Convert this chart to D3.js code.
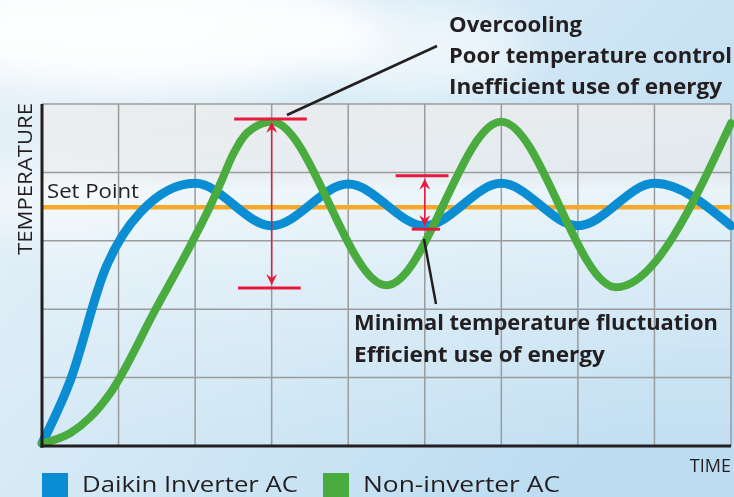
<!DOCTYPE html>
<html>
<head>
<meta charset="utf-8">
<script src="https://cdn.jsdelivr.net/npm/d3@7"></script>
<style>
  body { margin: 0; overflow: hidden; }
  svg { display: block; font-family: "Open Sans", sans-serif; }
</style>
</head>
<body>
<div id="chart"></div>
<script>
// temperature curves, x in grid columns (time), y in grid rows (temperature)
const inverterX = [0, 0.37, 0.82, 1.28, 2.0, 3.0, 4.0, 5.0, 6.0, 7.0, 8.0, 9.0];
const inverterY = [0.04, 0.96, 2.57, 3.41, 3.84, 3.22, 3.83, 3.22, 3.84, 3.22, 3.84, 3.22];
const nonInverterX = [0, 0.37, 0.63, 0.89, 1.48, 1.97, 2.19, 2.35, 2.49, 2.68, 3.0, 4.5, 6.0, 7.5, 9.0];
const nonInverterY = [0.04, 0.19, 0.42, 0.77, 1.99, 3.0, 3.49, 3.89, 4.25, 4.58, 4.74, 2.35, 4.74, 2.32, 4.72];
const setPoint = 3.49;

const xGrid = [0, 1, 2, 3, 4, 5, 6, 7, 8, 9];
const yGrid = [0, 1, 2, 3, 4, 5];

// fluctuation markers: [x, top, bottom, top bar x0, x1, bottom bar x0, x1]
const overRange = [3.0, 4.78, 2.31, 2.51, 3.46, 2.56, 3.38];
const invRange = [5.0, 3.95, 3.17, 4.62, 5.31, 4.83, 5.20];

const legendLabels = ["Daikin Inverter AC", "Non-inverter AC"];
const overText = ["Overcooling", "Poor temperature control", "Inefficient use of energy"];
const invText = ["Minimal temperature fluctuation", "Efficient use of energy"];

const blue = "#0a8dd3", green = "#4aab3f", orange = "#f7a92b", red = "#e8193c", ink = "#231f20";

const W = 734, H = 497;
const svg = d3.select("#chart").append("svg")
    .attr("width", W)
    .attr("height", H);

const defs = svg.append("defs");
const sky = defs.append("linearGradient").attr("id", "sky")
    .attr("x1", 0).attr("y1", 0).attr("x2", 1).attr("y2", 0.6);
sky.append("stop").attr("offset", 0).attr("stop-color", "#e9f2f8");
sky.append("stop").attr("offset", 0.45).attr("stop-color", "#d6eaf6");
sky.append("stop").attr("offset", 1).attr("stop-color", "#bcdcf1");
const blur = defs.append("filter").attr("id", "blur")
    .attr("x", "-50%").attr("y", "-50%").attr("width", "200%").attr("height", "200%");
blur.append("feGaussianBlur").attr("stdDeviation", 18);
const plotShade = defs.append("linearGradient").attr("id", "plotShade")
    .attr("x1", 0).attr("y1", 0).attr("x2", 0).attr("y2", 1);
plotShade.append("stop").attr("offset", 0).attr("stop-color", "#ececec").attr("stop-opacity", 0.85);
plotShade.append("stop").attr("offset", 0.2).attr("stop-color", "#eeeeee").attr("stop-opacity", 0.7);
plotShade.append("stop").attr("offset", 0.25).attr("stop-color", "#f6fafc").attr("stop-opacity", 0.75);
plotShade.append("stop").attr("offset", 1).attr("stop-color", "#d3e8f5").attr("stop-opacity", 0.3);

const marker = defs.append("marker").attr("id", "arrow")
    .attr("viewBox", "0 0 10 10").attr("refX", 9).attr("refY", 5)
    .attr("markerWidth", 14).attr("markerHeight", 11)
    .attr("markerUnits", "userSpaceOnUse")
    .attr("orient", "auto-start-reverse");
marker.append("path").attr("d", "M0,0 L10,5 L0,10 L3.5,5 Z").attr("fill", red);

// background sky with clouds
svg.append("rect").attr("width", W).attr("height", H).attr("fill", "url(#sky)");
const clouds = svg.append("g").attr("filter", "url(#blur)").attr("fill", "#ffffff");
clouds.append("ellipse").attr("cx", 150).attr("cy", 30).attr("rx", 230).attr("ry", 60).attr("opacity", 0.9);
clouds.append("ellipse").attr("cx", 420).attr("cy", 50).attr("rx", 110).attr("ry", 45).attr("opacity", 0.55);
clouds.append("ellipse").attr("cx", 60).attr("cy", 200).attr("rx", 90).attr("ry", 40).attr("opacity", 0.5);

const x = d3.scaleLinear().domain([0, 9]).range([42, 731]);
const y = d3.scaleLinear().domain([0, 5]).range([446, 104]);

svg.append("rect")
    .attr("x", x(0)).attr("y", y(5))
    .attr("width", x(9) - x(0)).attr("height", y(0) - y(5))
    .attr("fill", "url(#plotShade)");

// grid
svg.append("g").selectAll("line").data(xGrid.slice(1)).join("line")
    .attr("x1", d => x(d)).attr("x2", d => x(d))
    .attr("y1", y(5)).attr("y2", y(0))
    .attr("stroke", "#9b9b9b").attr("stroke-width", 1.5);
svg.append("g").selectAll("line").data(yGrid.slice(1)).join("line")
    .attr("x1", x(0)).attr("x2", x(9))
    .attr("y1", d => y(d)).attr("y2", d => y(d))
    .attr("stroke", "#9b9b9b").attr("stroke-width", 1.5);

// set point
svg.append("line")
    .attr("x1", x(0)).attr("x2", x(9))
    .attr("y1", y(setPoint)).attr("y2", y(setPoint))
    .attr("stroke", orange).attr("stroke-width", 4.5);
svg.append("text").attr("x", 47).attr("y", 198)
    .attr("fill", ink).style("font-size", "20px")
    .attr("textLength", 92).attr("lengthAdjust", "spacingAndGlyphs")
    .text("Set Point");

const line = d3.line()
    .x(d => x(d[0])).y(d => y(d[1]))
    .curve(d3.curveMonotoneX);

svg.append("path")
    .datum(d3.zip(inverterX, inverterY))
    .attr("d", line)
    .attr("fill", "none").attr("stroke", blue)
    .attr("stroke-width", 9).attr("stroke-linecap", "round");
svg.append("path")
    .datum(d3.zip(nonInverterX, nonInverterY))
    .attr("d", line)
    .attr("fill", "none").attr("stroke", green)
    .attr("stroke-width", 8).attr("stroke-linecap", "round");

// axes
svg.append("line").attr("x1", x(0)).attr("x2", x(0))
    .attr("y1", y(5)).attr("y2", y(0) + 1.5)
    .attr("stroke", ink).attr("stroke-width", 3);
svg.append("line").attr("x1", x(0) - 1.5).attr("x2", x(9))
    .attr("y1", y(0)).attr("y2", y(0))
    .attr("stroke", ink).attr("stroke-width", 3);

// fluctuation ranges
function drawRange(r) {
    const [cx, top, bottom, tx0, tx1, bx0, bx1] = r;
    svg.append("line").attr("x1", x(tx0)).attr("x2", x(tx1))
        .attr("y1", y(top)).attr("y2", y(top))
        .attr("stroke", red).attr("stroke-width", 3);
    svg.append("line").attr("x1", x(bx0)).attr("x2", x(bx1))
        .attr("y1", y(bottom)).attr("y2", y(bottom))
        .attr("stroke", red).attr("stroke-width", 3);
    svg.append("line").attr("x1", x(cx)).attr("x2", x(cx))
        .attr("y1", y(top) + 4).attr("y2", y(bottom) - 4)
        .attr("stroke", red).attr("stroke-width", 1.5)
        .attr("marker-start", "url(#arrow)").attr("marker-end", "url(#arrow)");
}
drawRange(overRange);
drawRange(invRange);

// leader lines
svg.append("line").attr("x1", 287).attr("y1", 115).attr("x2", 437).attr("y2", 46)
    .attr("stroke", ink).attr("stroke-width", 2.5);
svg.append("line").attr("x1", 424).attr("y1", 239).attr("x2", 436).attr("y2", 304)
    .attr("stroke", ink).attr("stroke-width", 2.5);

// annotation text
const overWidths = [133, 283, 273];
svg.append("g").selectAll("text").data(overText).join("text")
    .attr("x", 449).attr("y", (d, i) => 32 + i * 31)
    .attr("fill", ink).style("font-size", "22px").style("font-weight", 700)
    .attr("textLength", (d, i) => overWidths[i]).attr("lengthAdjust", "spacingAndGlyphs")
    .text(d => d);
const invWidths = [364, 251];
svg.append("g").selectAll("text").data(invText).join("text")
    .attr("x", 354).attr("y", (d, i) => 330 + i * 32)
    .attr("fill", ink).style("font-size", "22px").style("font-weight", 700)
    .attr("textLength", (d, i) => invWidths[i]).attr("lengthAdjust", "spacingAndGlyphs")
    .text(d => d);

// axis titles
svg.append("text")
    .attr("transform", "translate(32,179) rotate(-90)")
    .attr("text-anchor", "middle")
    .attr("fill", ink).style("font-size", "20px")
    .attr("textLength", 152).attr("lengthAdjust", "spacingAndGlyphs")
    .text("TEMPERATURE");
svg.append("text").attr("x", 731).attr("y", 472)
    .attr("text-anchor", "end")
    .attr("fill", ink).style("font-size", "18px")
    .text("TIME");

// legend
const legendX = [42, 323];
const legendW = [216, 197];
const legendColors = [blue, green];
const legend = svg.append("g").selectAll("g").data(legendLabels).join("g")
    .attr("transform", (d, i) => `translate(${legendX[i]},473)`);
legend.append("rect").attr("width", 26).attr("height", 26)
    .attr("fill", (d, i) => legendColors[i]);
legend.append("text").attr("x", 40).attr("y", 19)
    .attr("fill", ink).style("font-size", "22px")
    .attr("textLength", (d, i) => legendW[i]).attr("lengthAdjust", "spacingAndGlyphs")
    .text(d => d);
</script>
</body>
</html>
